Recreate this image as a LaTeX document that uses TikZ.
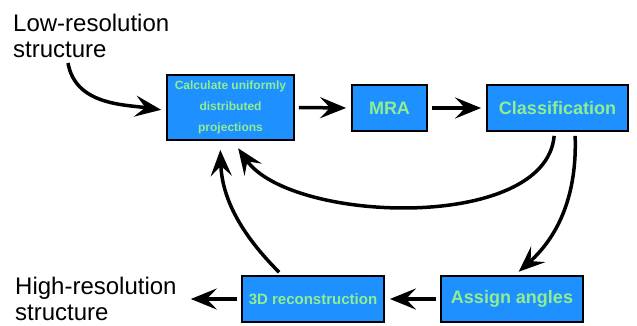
\documentclass[tikz,border=0pt]{standalone}
\usepackage{fontspec}
\setmainfont{Liberation Sans}
\usetikzlibrary{arrows.meta, calc}
\definecolor{cBox}{RGB}{30,144,255}
\definecolor{cText}{RGB}{144,238,144}
\tikzset{
	box/.style ={rectangle, draw=black, line width=1.8pt, fill=cBox, text=cText, font=\bfseries\fontsize{18}{20}\selectfont, minimum height=46pt, align=center, inner sep=2pt},
	flow/.style={-{Stealth[length=26pt, width=21pt, inset=10pt]}, line width=3.5pt, shorten >=5pt, shorten <=4pt},
	% free text at the two ends of the loop
	note/.style={font=\fontsize{24}{26}\selectfont, align=left, inner sep=0pt, anchor=north west},
}
\begin{document}
\begin{tikzpicture}[x=1pt, y=1pt]
		\useasboundingbox (0,0) rectangle (637,325);
		\node[box, minimum width=127pt, minimum height=65pt, font=\bfseries\fontsize{12}{21}\selectfont] (calc) at (230.5,217.5) {Calculate uniformly\\distributed\\projections};
		\node[box, minimum width=75pt] (mra) at (389.5,217) {MRA};
		\node[box, minimum width=141pt] (cls) at (557.5,217) {Classification};
		\node[box, minimum width=142pt] (asg) at (512,26) {Assign angles};
		\node[box, minimum width=142pt, font=\bfseries\fontsize{15}{17}\selectfont] (rec) at (313,26) {3D reconstruction};
		\node[note] (low) at (13,311) {Low-resolution\\structure};
		\node[note] (high) at (15,48.5) {High-resolution\\structure};
		\draw[flow, shorten <=0pt] ([xshift=55pt,yshift=-5pt]low.south west) to[out=-80, in=172] ([yshift=-3pt]calc.west);
		\draw[flow] (calc.east) -- (mra.west);
		\draw[flow] (mra.east) -- (cls.west);
		\draw[flow, shorten >=9pt] ([xshift=-3pt]cls.south) to[out=-95, in=-55, looseness=0.8] ([xshift=2.5pt]calc.south);
		\draw[flow] ([xshift=17.5pt]cls.south) to[out=-88, in=42] ([xshift=3pt]asg.north);
		\draw[flow] (asg.west) -- (rec.east);
		\draw[flow, shorten >=14pt] (rec.west) -- (rec.west -| high.east);
		\draw[flow, shorten >=9pt] ([xshift=-31pt]rec.north) to[out=135, in=-88] ([xshift=-10.5pt]calc.south);
	\end{tikzpicture}
\end{document}
